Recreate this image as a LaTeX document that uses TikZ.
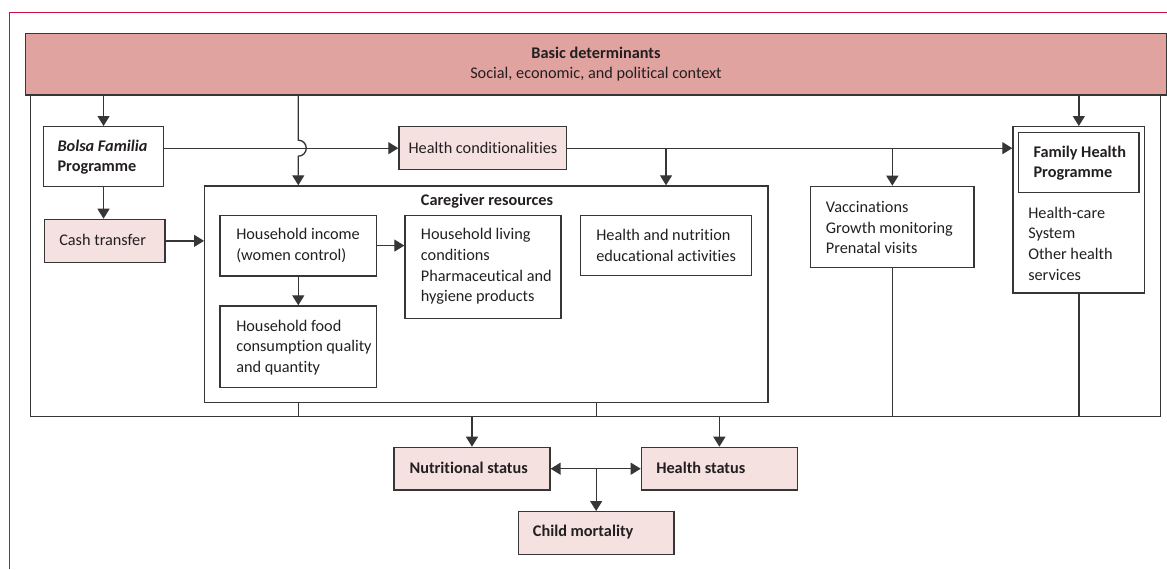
\documentclass[tikz,border=0pt]{standalone}
\usepackage{fontspec}
\setmainfont{Carlito}[Ligatures=NoCommon]
\usetikzlibrary{arrows.meta}
\definecolor{framec}{HTML}{C8103E}
\definecolor{topfill}{HTML}{E0A3A0}
\definecolor{lightfill}{HTML}{F5E1DF}
\definecolor{ink}{HTML}{231F20}
\definecolor{linec}{HTML}{363636}
\begin{document}
\begin{tikzpicture}[x=0.75pt,y=-0.75pt,
  font=\fontsize{12.2}{15.5}\selectfont,
  every node/.style={text=ink},
  box/.style={draw=linec, line width=1pt, anchor=north west, inner sep=0pt},
  pinkbox/.style={box, fill=lightfill},
  txt/.style={anchor=west, inner sep=0pt, align=left},
  conn/.style={draw=linec, line width=1pt},
  arr/.style={conn, -{Triangle[length=7.5pt,width=9pt]}},
]
\useasboundingbox (0,0) rectangle (1167,569);
\draw[framec, line width=0.9pt] (9.3,569) -- (9.3,12.7) -- (1167,12.7);

% boxes
\node[box, minimum width=847.5pt, minimum height=241.05pt] (outer) at (30,94.3) {};
\node[box, fill=topfill, minimum width=855.5pt, minimum height=46.2pt, align=center] (basic) at (25,32.7)
  {\textbf{Basic determinants}\\Social, economic, and political context};
\node[box, minimum width=89.8pt, minimum height=45pt] (bolsa) at (43,126) {};
\node[pinkbox, minimum width=90.45pt, minimum height=32.25pt] (cash) at (43.7,218.7) {};
\node[pinkbox, minimum width=125.8pt, minimum height=32.25pt] (hcond) at (398.3,126) {};
\node[box, minimum width=422.5pt, minimum height=162.3pt] (caregiver) at (204,185.3) {};
\node[box, minimum width=117.5pt, minimum height=45.6pt] (income) at (219.3,214.5) {};
\node[box, minimum width=117.5pt, minimum height=61.3pt] (food) at (219.3,305.3) {};
\node[box, minimum width=117pt, minimum height=77.25pt] (living) at (404.3,214.7) {};
\node[box, minimum width=128.5pt, minimum height=45.2pt] (hn) at (579.7,214.7) {};
\node[box, minimum width=122.5pt, minimum height=60.75pt] (vacc) at (810,185.7) {};
\node[box, minimum width=98.8pt, minimum height=124.7pt] (fhp) at (1012.3,126) {};
\node[box, minimum width=90.2pt, minimum height=45.2pt] (fhpin) at (1018,131.7) {};
\node[pinkbox, minimum width=117pt, minimum height=32pt] (nutr) at (393.3,446.7) {};
\node[pinkbox, minimum width=117pt, minimum height=32pt] (hstat) at (640.7,446.7) {};
\node[pinkbox, minimum width=116.7pt, minimum height=32pt] (child) at (517.7,511) {};

% texts
\node[txt] (bolsatxt) at (57.3,157) {\textbf{\textit{Bolsa Familia}}\\\textbf{Programme}};
\node[txt] (cashtxt) at (59,240) {Cash transfer};
\node[txt] (hcondtxt) at (408.3,147.5) {Health conditionalities};
\node[txt] (caretxt) at (420.7,201) {\textbf{Caregiver resources}};
\node[txt] (incometxt) at (236,245.5) {Household income\\(women control)};
\node[txt] (foodtxt) at (236,347.5) {Household food\\consumption quality\\and quantity};
\node[txt] (livingtxt) at (420.7,266.5) {Household living\\conditions\\Pharmaceutical and\\hygiene products};
\node[txt] (hntxt) at (596,245.5) {Health and nutrition\\educational activities};
\node[txt] (vacctxt) at (825.7,227.5) {Vaccinations\\Growth monitoring\\Prenatal visits};
\node[txt] (fhpintxt) at (1033.3,163) {\textbf{Family Health}\\\textbf{Programme}};
\node[txt] (fhptxt) at (1028,243.5) {Health-care\\System\\Other health\\services};
\node[txt] (nutrtxt) at (409.3,468) {\textbf{Nutritional status}};
\node[txt] (hstattxt) at (656,468) {\textbf{Health status}};
\node[txt] (childtxt) at (532.7,532.3) {\textbf{Child mortality}};

% connectors
\coordinate (jump) at (income.north |- hcond.west);
\coordinate (junction) at (child.north |- nutr.east);
\draw[arr] (basic.south -| bolsa.north) -- (bolsa.north);
\draw[arr] (basic.south -| income.north) -- ([yshift=6pt]jump)
  arc[start angle=90, end angle=-90, radius=6pt] -- (caregiver.north -| income.north);
\draw[arr] (basic.south -| fhp.north) -- (fhp.north);
\draw[arr] (bolsa.east |- hcond.west) -- (hcond.west);
\draw[arr] (hcond.east) -- (hcond.east -| fhp.west);
\draw[arr] (hcond.east -| hn.north) -- (caregiver.north -| hn.north);
\draw[arr] (hcond.east -| vacc.north) -- (vacc.north);
\draw[arr] (bolsa.south) -- (bolsa.south |- cash.north);
\draw[arr] (cash.east) -- (cash.east -| caregiver.west);
\draw[arr] (income.east) -- (income.east -| living.west);
\draw[arr] (income.south) -- (food.north);
\draw[conn] (caregiver.south -| income.south) -- (outer.south -| income.south);
\draw[conn] (caregiver.south -| child.north) -- (outer.south -| child.north);
\draw[conn] (vacc.south) -- (vacc.south |- outer.south);
\draw[conn] (fhp.south) -- (fhp.south |- outer.south);
\draw[arr] (outer.south -| nutr.north) -- (nutr.north);
\draw[arr] (outer.south -| hstat.north) -- (hstat.north);
\draw[arr] (junction) -- (nutr.east);
\draw[arr] (junction) -- (hstat.west);
\draw[arr] (junction) -- (child.north);
\end{tikzpicture}
\end{document}
